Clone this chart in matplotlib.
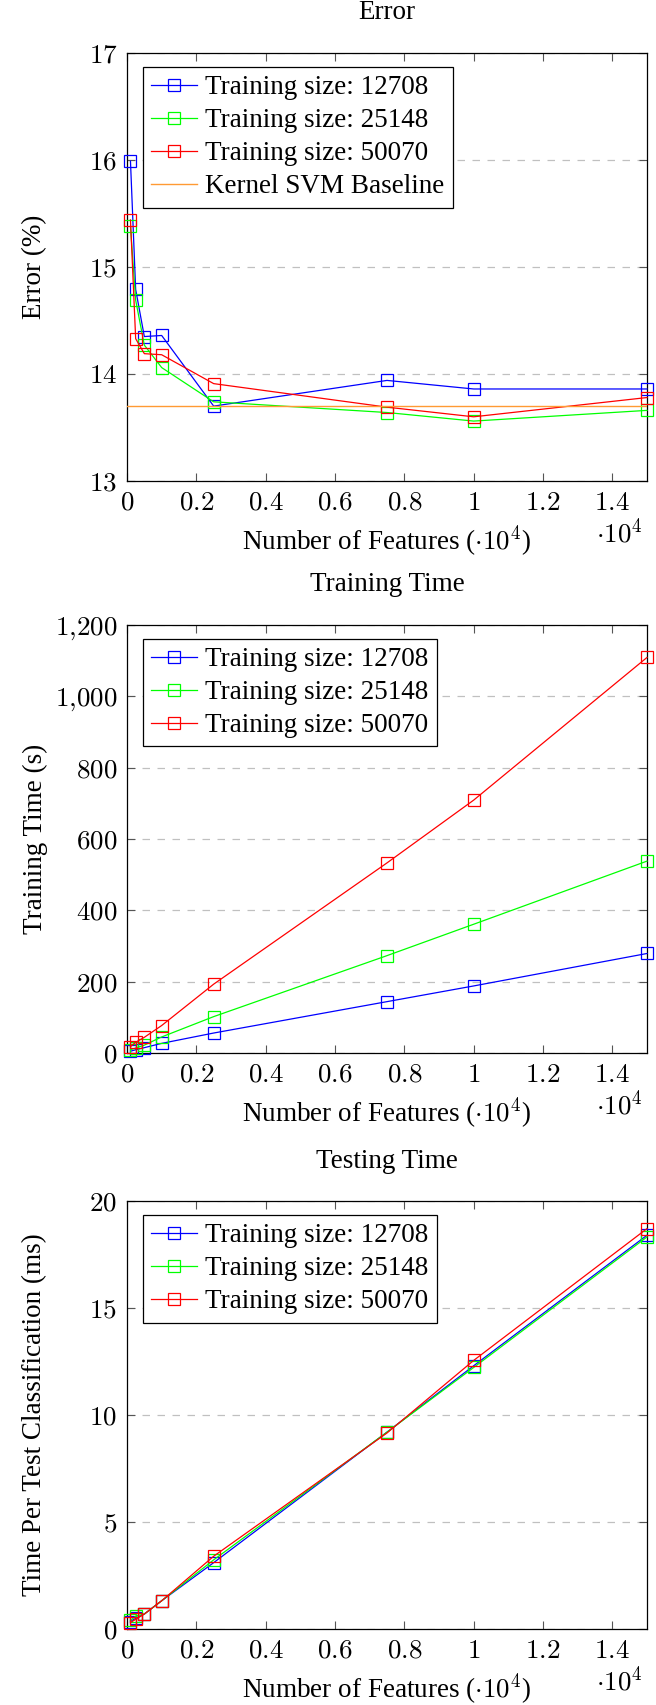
import matplotlib
matplotlib.use('Agg')
import matplotlib.pyplot as plt
from matplotlib.ticker import FuncFormatter, MultipleLocator

plt.rcParams['font.family'] = ['Liberation Serif', 'DejaVu Serif']
plt.rcParams['mathtext.fontset'] = 'cm'

# number of features, shown in units of 10^4
features = [100, 250, 500, 1000, 2500, 7500, 10000, 15000]
x = [f / 1e4 for f in features]

sizes = ['12708', '25148', '50070']
colors = ['#0000ff', '#00ff00', '#ff0000']

err_12708 = [15.99, 14.79, 14.35, 14.36, 13.70, 13.94, 13.86, 13.86]
err_25148 = [15.38, 14.69, 14.27, 14.06, 13.74, 13.64, 13.56, 13.66]
err_50070 = [15.44, 14.33, 14.19, 14.18, 13.91, 13.69, 13.60, 13.78]
svm_baseline = 13.70

train_12708 = [5, 9, 15, 27, 56, 144, 188, 279]
train_25148 = [9, 14, 22, 45, 102, 273, 361, 538]
train_50070 = [18, 30, 44, 77, 193, 533, 709, 1109]

test_12708 = [0.35, 0.50, 0.70, 1.32, 3.10, 9.20, 12.30, 18.40]
test_25148 = [0.40, 0.60, 0.70, 1.32, 3.23, 9.20, 12.22, 18.32]
test_50070 = [0.30, 0.45, 0.70, 1.32, 3.40, 9.16, 12.55, 18.71]

FS = 19.5
W, H = 656, 1705
AX_L, AX_W, AX_H = 127, 520, 428

fig = plt.figure(figsize=(W / 100, H / 100), dpi=100)


def make_axes(top_px, title, ylabel, ylim, ystep, yfmt):
    ax = fig.add_axes([AX_L / W, 1 - (top_px + AX_H) / H, AX_W / W, AX_H / H])
    ax.set_xlim(0, 1.5)
    ax.set_ylim(*ylim)
    ax.xaxis.set_major_locator(MultipleLocator(0.2))
    ax.yaxis.set_major_locator(MultipleLocator(ystep))
    ax.xaxis.set_major_formatter(FuncFormatter(lambda v, p: '$%g$' % round(v, 2)))
    ax.yaxis.set_major_formatter(FuncFormatter(yfmt))
    ax.tick_params(direction='in', length=6, width=0.8, color='#555555',
                   top=True, right=True, labelsize=FS, pad=7)
    for s in ax.spines.values():
        s.set_linewidth(0.9)
    ax.grid(axis='y', color='#c0c0c0', linestyle=(0, (6, 6)), linewidth=0.9)
    ax.set_axisbelow(True)
    ax.set_title(title, fontsize=FS, y=1 + 40 / AX_H, va='center', pad=0)
    ax.set_xlabel(r'Number of Features ($\cdot 10^4$)', fontsize=FS)
    ax.xaxis.label.set_va('baseline')
    ax.xaxis.set_label_coords(0.5, -69 / AX_H)
    ax.set_ylabel(ylabel, fontsize=FS)
    ax.yaxis.label.set_va('center')
    ax.yaxis.set_label_coords(-(AX_L - 35) / AX_W, 0.5)
    ax.text(0.992, -52 / AX_H, r'$\cdot 10^4$', transform=ax.transAxes,
            ha='right', va='center', fontsize=FS)
    return ax


def plot_series(ax, series):
    for vals, size, c in zip(series, sizes, colors):
        ax.plot(x, vals, color=c, linewidth=0.9, marker='s', markersize=8.5,
                markerfacecolor='none', markeredgecolor=c, markeredgewidth=0.9,
                label='Training size: ' + size, clip_on=False, zorder=3)


def add_legend(ax):
    ax.legend(loc='upper left', bbox_to_anchor=(16 / AX_W, 1 - 14 / AX_H),
              borderaxespad=0, fontsize=FS, fancybox=False, framealpha=1,
              edgecolor='black', handlelength=1.7, handletextpad=0.3,
              labelspacing=0.3, borderpad=0.3).get_frame().set_linewidth(0.9)


num_fmt = lambda v, p: '$%g$' % v
comma_fmt = lambda v, p: '$' + '{:,.0f}'.format(v).replace(',', '{,}') + '$'

# Error
ax1 = make_axes(53, 'Error', 'Error (%)', (13, 17), 1, num_fmt)
plot_series(ax1, [err_12708, err_25148, err_50070])
ax1.plot([0, 1.5], [svm_baseline, svm_baseline], color='#ff9a33', linewidth=1.0,
         label='Kernel SVM Baseline', zorder=4)
add_legend(ax1)

# Training time
ax2 = make_axes(625, 'Training Time', 'Training Time (s)', (0, 1200), 200, comma_fmt)
plot_series(ax2, [train_12708, train_25148, train_50070])
add_legend(ax2)

# Testing time
ax3 = make_axes(1201, 'Testing Time', 'Time Per Test Classification (ms)', (0, 20), 5, num_fmt)
plot_series(ax3, [test_12708, test_25148, test_50070])
add_legend(ax3)

fig.savefig('out.png', dpi=100)
